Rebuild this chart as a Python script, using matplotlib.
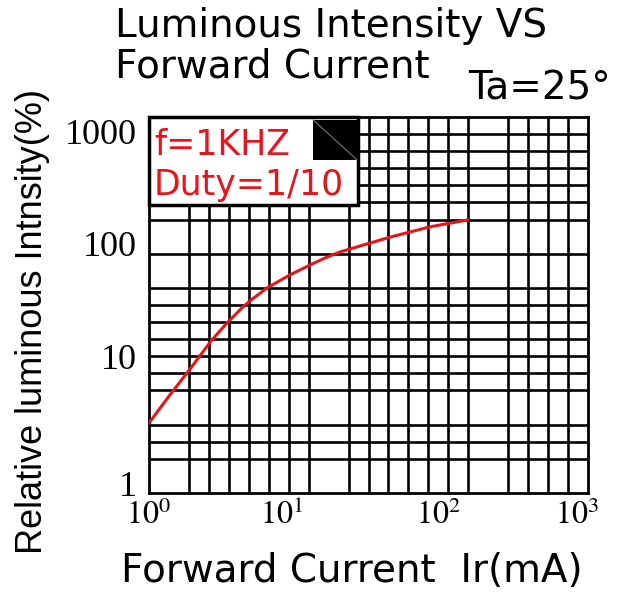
import matplotlib
matplotlib.use("Agg")
import matplotlib.pyplot as plt
from matplotlib.patches import Rectangle
from matplotlib.lines import Line2D
from matplotlib.ticker import NullLocator
from matplotlib.transforms import ScaledTranslation

plt.rcParams['mathtext.fontset'] = 'stix'

# ---- data ----
forward_current_mA = [1.0, 1.39, 1.91, 2.65, 3.41, 4.32, 4.9, 6.41, 9.2, 12.6, 16.0,
                      20.2, 44.4, 83.3, 151]
relative_intensity = [3.62, 6.06, 9.76, 16.3, 22.7, 30.0, 34.1, 43.3, 55.0, 66.0, 75.1,
                      83.8, 110, 133, 151]
x_ticks = [1, 10, 100, 1000]
x_tick_labels = [r'$10^{0}$', r'$10^{1}$', r'$10^{2}$', r'$10^{3}$']
y_ticks = [1, 10, 100, 1000]
y_tick_labels = ['1', '10', '100', '1000']
title_lines = ['Luminous Intensity VS', 'Forward Current']
x_label = 'Forward Current  Ir(mA)'
y_label = 'Relative luminous Intnsity(%)'
condition = 'Ta=25°'
note_lines = ['f=1KHZ', 'Duty=1/10']

W, H = 621, 593
fig = plt.figure(figsize=(W / 100, H / 100), dpi=100)
rect = [149 / W, 1 - 493 / H, 439 / W, 376 / H]

# ---- decorative chart-paper grid (uniform lattice with some lines omitted) ----
N = 22
x_skip = {1, 9, 17}
y_skip = {1, 5, 13, 15}
gax = fig.add_axes(rect)
gax.set_xlim(0, N)
gax.set_ylim(0, N)
gax.set_xticks([k for k in range(1, N) if k not in x_skip])
gax.set_yticks([k for k in range(1, N) if k not in y_skip])
gax.grid(True, color='black', lw=1.9)
gax.tick_params(length=0, labelbottom=False, labelleft=False)
for s in gax.spines.values():
    s.set_linewidth(2.0)

# ---- data axes ----
ax = fig.add_axes(rect, facecolor='none')
ax.set_xscale('log')
ax.set_yscale('log')
ax.set_xlim(1, 1000)
ax.set_ylim(1, 1000)
for s in ax.spines.values():
    s.set_visible(False)
ax.plot(forward_current_mA, relative_intensity, color='#e8141c', lw=2.2,
        solid_capstyle='round', solid_joinstyle='round', zorder=3)

ax.set_xticks(x_ticks)
ax.set_xticklabels(x_tick_labels, fontsize=23)
ax.set_yticks(y_ticks)
ax.set_yticklabels(y_tick_labels, fontsize=26, family='Liberation Serif')
ax.xaxis.set_minor_locator(NullLocator())
ax.yaxis.set_minor_locator(NullLocator())
ax.tick_params(axis='x', length=0, pad=5)
ax.tick_params(axis='y', length=0, pad=9)

x_off = [0, -14, -3, -11]
for lbl, dx in zip(ax.get_xticklabels(), x_off):
    lbl.set_transform(lbl.get_transform() + ScaledTranslation(dx / 100, 0, fig.dpi_scale_trans))
y_off = [9, 11, -1, -15]
for lbl, dy in zip(ax.get_yticklabels(), y_off):
    lbl.set_transform(lbl.get_transform() + ScaledTranslation(0, dy / 100, fig.dpi_scale_trans))

ax.set_xlabel(x_label, fontsize=28, family='DejaVu Sans')
ax.xaxis.label.set_va('center')
ax.xaxis.set_label_coords(0.462, -0.207)
ax.set_ylabel(y_label, fontsize=26, family='Liberation Sans')
ax.yaxis.label.set_va('center')
ax.yaxis.set_label_coords((33 - 149) / 439, 0.455)

# ---- note box ----
ax.add_patch(Rectangle((0.004, 0.762), 0.476, 0.234, transform=ax.transAxes,
                       facecolor='#888888', edgecolor='none', zorder=5, clip_on=False))
ax.add_patch(Rectangle((0, 0.766), 0.476, 0.234, transform=ax.transAxes,
                       facecolor='white', edgecolor='black', lw=2.5, zorder=5, clip_on=False))
ax.add_patch(Rectangle((0.374, 0.886), 0.1, 0.106, transform=ax.transAxes,
                       facecolor='black', edgecolor='none', zorder=6, clip_on=False))
ax.add_line(Line2D([0.374, 0.474], [0.992, 0.886], transform=ax.transAxes,
                   color='#777777', lw=0.8, zorder=7))
for line, yb in zip(note_lines, [0.899, 0.793]):
    ax.text(0.011, yb, line, transform=ax.transAxes, color='#e8141c', fontsize=25,
            family='DejaVu Sans', va='baseline', ha='left', zorder=8)

# ---- title & condition ----
for line, yb in zip(title_lines, [37, 77]):
    fig.text(115 / W, 1 - yb / H, line, fontsize=28, family='DejaVu Sans',
             ha='left', va='baseline')
fig.text(468 / W, 1 - 100 / H, condition, fontsize=28, family='DejaVu Sans',
         ha='left', va='baseline')

fig.savefig('out.png', dpi=100)
